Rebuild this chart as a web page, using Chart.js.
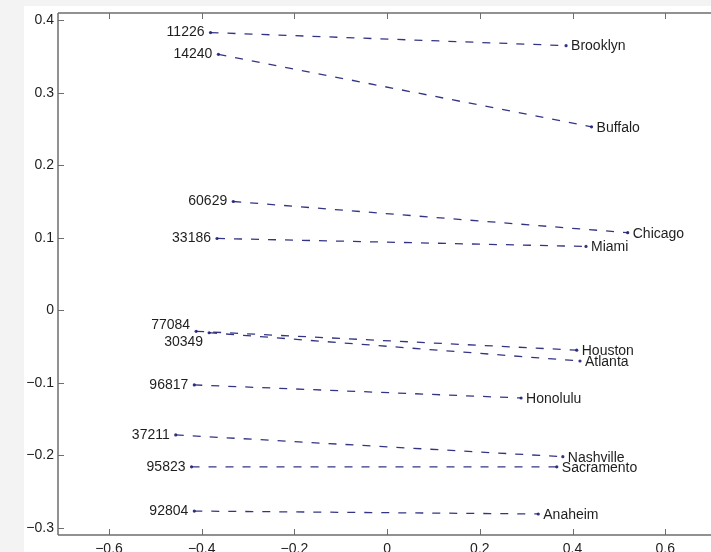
<!DOCTYPE html>
<html>
<head>
<meta charset="utf-8">
<title>Zip codes and cities</title>
<script src="https://cdn.jsdelivr.net/npm/chart.js@4/dist/chart.umd.min.js"></script>
<style>
    body { margin: 0; background: #ffffff; overflow: hidden; }
    #chartBox { width: 711px; height: 552px; }
</style>
</head>
<body>
<div id="chartBox">
    <canvas id="zipCityChart" width="711" height="552"></canvas>
</div>
<script>
// Left ends (zip codes) and right ends (cities)
const zipCodes = ["11226", "14240", "60629", "33186", "77084", "30349", "96817", "37211", "95823", "92804"];
const zipX = [-0.381, -0.364, -0.332, -0.367, -0.412, -0.384, -0.416, -0.456, -0.422, -0.416];
const zipY = [0.383, 0.353, 0.150, 0.099, -0.029, -0.031, -0.103, -0.172, -0.216, -0.277];

const cityNames = ["Brooklyn", "Buffalo", "Chicago", "Miami", "Houston", "Atlanta", "Honolulu", "Nashville", "Sacramento", "Anaheim"];
const cityX = [0.386, 0.441, 0.519, 0.429, 0.409, 0.416, 0.289, 0.379, 0.366, 0.326];
const cityY = [0.365, 0.253, 0.107, 0.088, -0.055, -0.070, -0.121, -0.202, -0.216, -0.281];

// Tick values
const xTicks = [-0.6, -0.4, -0.2, 0, 0.2, 0.4, 0.6];
const yTicks = [-0.3, -0.2, -0.1, 0, 0.1, 0.2, 0.3, 0.4];

const lineColor = "rgba(30, 30, 120, 0.9)";
const axisColor = "#6e6e6e";

// small vertical nudges so the two overlapping zip labels don't sit on top of each other
const zipLabelNudge = { "77084": -6, "30349": 9 };

Chart.defaults.font.family = "'Liberation Sans', Arial, Helvetica, sans-serif";
Chart.defaults.font.size = 14;
Chart.defaults.color = "#1e1e1e";

// One dataset per zip -> city pair
let pairDatasets = [];
zipCodes.forEach(function(zip, i) {
    pairDatasets.push({
        label: zip + " - " + cityNames[i],
        data: [{x: zipX[i], y: zipY[i]}, {x: cityX[i], y: cityY[i]}],
        showLine: true,
        borderColor: lineColor,
        borderWidth: 1.3,
        borderDash: [8, 9],
        pointRadius: 1.6,
        pointBackgroundColor: lineColor,
        pointBorderWidth: 0,
    });
});

function minusLabel(value) {
    if (Math.abs(value) < 1e-9) return "0";
    return value < 0 ? "\u2212" + Math.abs(value) : String(value);
}

// Background, box and inward ticks like the original figure
const figurePlugin = {
    id: "figurePlugin",
    beforeDraw(chart) {
        const ctx = chart.ctx;
        ctx.save();
        ctx.fillStyle = "#f3f3f3";
        ctx.fillRect(0, 0, chart.width, chart.height);
        ctx.fillStyle = "#ffffff";
        ctx.fillRect(24, 6, chart.width - 24, chart.height - 6);
        ctx.restore();
    },
    afterDatasetsDraw(chart) {
        const ctx = chart.ctx;
        const area = chart.chartArea;
        const xScale = chart.scales.x;
        const yScale = chart.scales.y;

        ctx.save();
        ctx.strokeStyle = axisColor;
        ctx.lineWidth = 1.5;
        ctx.beginPath();
        ctx.moveTo(area.left, area.top);
        ctx.lineTo(area.left, area.bottom);
        ctx.moveTo(area.left, area.top);
        ctx.lineTo(chart.width, area.top);
        ctx.moveTo(area.left, area.bottom);
        ctx.lineTo(chart.width, area.bottom);
        ctx.stroke();

        ctx.lineWidth = 1;
        ctx.beginPath();
        xTicks.forEach(function(v) {
            let px = Math.round(xScale.getPixelForValue(v)) + 0.5;
            ctx.moveTo(px, area.bottom);
            ctx.lineTo(px, area.bottom - 6);
            ctx.moveTo(px, area.top);
            ctx.lineTo(px, area.top + 6);
        });
        yTicks.forEach(function(v) {
            let py = Math.round(yScale.getPixelForValue(v)) + 0.5;
            ctx.moveTo(area.left, py);
            ctx.lineTo(area.left + 6, py);
        });
        ctx.stroke();

        // Text labels at the ends of each line
        ctx.fillStyle = "#1e1e1e";
        ctx.font = "14px 'Liberation Sans', Arial, sans-serif";
        ctx.textBaseline = "middle";
        zipCodes.forEach(function(zip, i) {
            let nudge = zipLabelNudge[zip] || 0;
            ctx.textAlign = "right";
            ctx.fillText(zip, xScale.getPixelForValue(zipX[i]) - 6, yScale.getPixelForValue(zipY[i]) + nudge);
            ctx.textAlign = "left";
            ctx.fillText(cityNames[i], xScale.getPixelForValue(cityX[i]) + 5, yScale.getPixelForValue(cityY[i]) + 1);
        });
        ctx.restore();
    }
};

new Chart(document.getElementById("zipCityChart"), {
    type: "scatter",
    data: { datasets: pairDatasets },
    options: {
        responsive: false,
        animation: false,
        devicePixelRatio: 1,
        layout: { padding: { top: 13, right: 0, bottom: 0, left: 0 } },
        plugins: {
            legend: { display: false },
            tooltip: { enabled: false },
        },
        scales: {
            x: {
                type: "linear",
                min: -0.71,
                max: 0.69,
                grid: { display: false, drawTicks: false },
                border: { display: false },
                afterBuildTicks: function(scale) {
                    scale.ticks = xTicks.map(function(v) { return {value: v}; });
                },
                afterFit: function(scale) { scale.height = 17; },
                ticks: {
                    padding: 6,
                    maxRotation: 0,
                    autoSkip: false,
                    callback: function(value) { return minusLabel(value); }
                }
            },
            y: {
                type: "linear",
                min: -0.31,
                max: 0.41,
                grid: { display: false, drawTicks: false },
                border: { display: false },
                afterBuildTicks: function(scale) {
                    scale.ticks = yTicks.map(function(v) { return {value: v}; });
                },
                afterFit: function(scale) { scale.width = 58; },
                ticks: {
                    padding: 4,
                    autoSkip: false,
                    callback: function(value) { return minusLabel(value); }
                }
            }
        }
    },
    plugins: [figurePlugin]
});
</script>
</body>
</html>
